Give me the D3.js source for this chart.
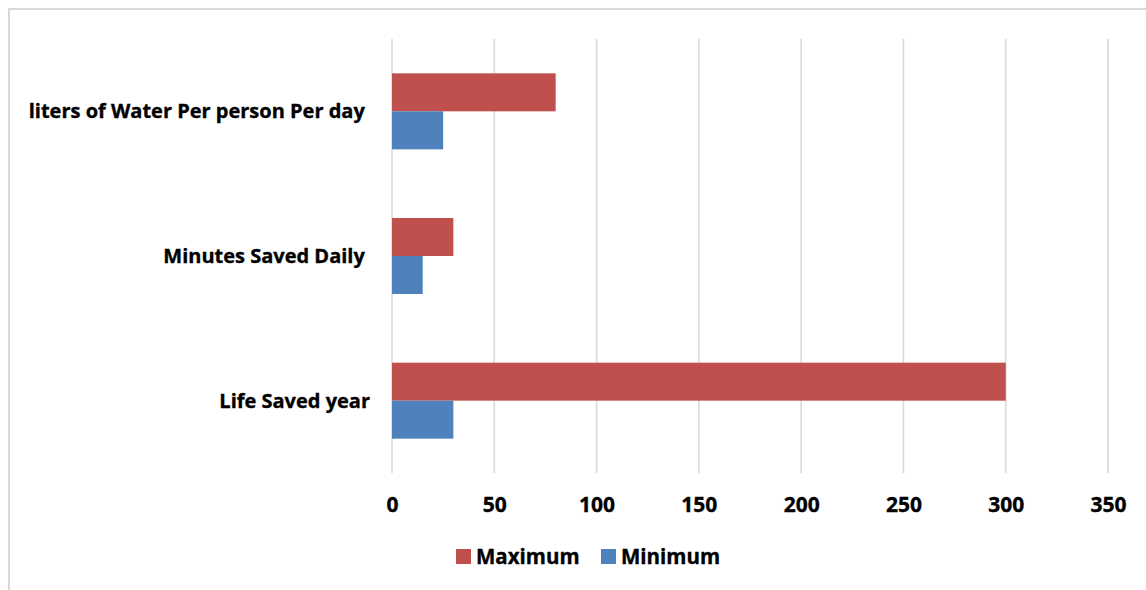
<!DOCTYPE html>
<html>
<head>
<meta charset="utf-8">
<script src="https://cdn.jsdelivr.net/npm/d3@7"></script>
<style>
  html, body { margin: 0; padding: 0; background: #fff; }
  svg { display: block; }
  text { font-family: "Open Sans", sans-serif; font-weight: bold; fill: #000; stroke: #000; stroke-width: 0.35px; }
</style>
</head>
<body>
<svg id="chart" width="1146" height="590"></svg>
<script>
const categories = ["liters of Water Per person Per day ", "Minutes Saved Daily ", "Life Saved year"];
const seriesNames = ["Maximum", "Minimum"];
const maximumValues = [80, 30, 300];
const minimumValues = [25, 15, 30];
const xTicks = [0, 50, 100, 150, 200, 250, 300, 350];
const seriesColors = ["#C0504D", "#4F81BD"];

const svg = d3.select("#chart");

// chart frame
svg.append("rect")
  .attr("x", 9).attr("y", 9)
  .attr("width", 1146).attr("height", 600)
  .attr("fill", "none").attr("stroke", "#d9d9d9").attr("stroke-width", 2);

const plot = { left: 392, right: 1108, top: 39, bottom: 473 };

const x = d3.scaleLinear().domain([0, 350]).range([plot.left, plot.right]);
const y0 = d3.scaleBand().domain(categories).range([plot.top, plot.bottom])
  .paddingInner(0.4747).paddingOuter(0.2373);
const y1 = d3.scaleBand().domain(seriesNames).range([0, y0.bandwidth()]);

// gridlines
svg.append("g").selectAll("line").data(xTicks).join("line")
  .attr("x1", d => x(d)).attr("x2", d => x(d))
  .attr("y1", plot.top).attr("y2", plot.bottom)
  .attr("stroke", "#d9d9d9").attr("stroke-width", 1.6);

const rows = categories.map((c, i) => ({
  cat: c,
  vals: [{ s: "Maximum", v: maximumValues[i] }, { s: "Minimum", v: minimumValues[i] }]
}));

const g = svg.append("g").selectAll("g").data(rows).join("g")
  .attr("transform", d => `translate(0,${y0(d.cat)})`);
g.selectAll("rect").data(d => d.vals).join("rect")
  .attr("x", x(0))
  .attr("y", d => y1(d.s))
  .attr("width", d => x(d.v) - x(0))
  .attr("height", y1.bandwidth())
  .attr("fill", (d, i) => seriesColors[i]);

// x axis labels
const xAxis = d3.axisBottom(x).tickValues(xTicks).tickSize(0).tickPadding(0);
const xa = svg.append("g").attr("transform", `translate(0,${plot.bottom})`).call(xAxis);
xa.select(".domain").remove();
xa.selectAll("text")
  .attr("y", 32).attr("dy", "0.35em")
  .style("font-family", "'Open Sans', sans-serif")
  .style("font-weight", "bold")
  .style("font-size", "21px")
  .attr("fill", "#000");

// y axis labels
const yAxis = d3.axisLeft(y0).tickSize(0).tickPadding(0);
const ya = svg.append("g").attr("transform", `translate(${plot.left - 22},0)`).call(yAxis);
ya.select(".domain").remove();
ya.selectAll("text")
  .style("white-space", "pre")
  .attr("dy", "0.35em")
  .style("font-family", "'Open Sans', sans-serif")
  .style("font-weight", "bold")
  .style("font-size", "20px")
  .attr("fill", "#000");

// legend
const legendItems = [{ name: "Maximum", x: 456 }, { name: "Minimum", x: 601 }];
const lg = svg.append("g").selectAll("g").data(legendItems).join("g")
  .attr("transform", d => `translate(${d.x},${549})`);
lg.append("rect").attr("width", 15).attr("height", 15)
  .attr("fill", (d, i) => seriesColors[i]);
lg.append("text").attr("x", 20).attr("y", 8).attr("dy", "0.35em")
  .style("font-size", "20.5px")
  .text(d => d.name);
</script>
</body>
</html>
